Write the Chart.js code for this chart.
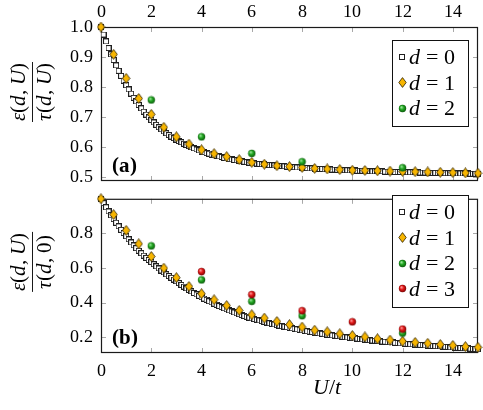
<!DOCTYPE html>
<html><head><meta charset="utf-8">
<script src="https://cdn.jsdelivr.net/npm/chart.js@4/dist/chart.umd.min.js"></script>
<style>
@font-face{font-family:"LSr";src:local("Liberation Serif"),local("LiberationSerif"),local("Liberation Serif Regular"),local("LiberationSerif-Regular");font-style:normal;font-weight:400}
@font-face{font-family:"LSr";src:local("Liberation Serif Italic"),local("LiberationSerif-Italic");font-style:italic;font-weight:400}
@font-face{font-family:"LSr";src:local("Liberation Serif Bold"),local("LiberationSerif-Bold");font-style:normal;font-weight:700}
html,body{margin:0;padding:0;background:#fff;width:483px;height:410px;overflow:hidden}
#c1{position:absolute;left:0;top:0}
#c2{position:absolute;left:0;top:180px}
</style></head><body>
<canvas id="c1" width="483" height="201"></canvas>
<canvas id="c2" width="483" height="230"></canvas>
<script>
// ---------- data ----------
const uFine = Array.from({length:151}, (_, i) => i / 10);
const uHalf = Array.from({length:31}, (_, i) => i / 2);
const uD2 = [2, 4, 6, 8, 12];
const uD3 = [4, 6, 8, 10, 12];
const xTicks = [0, 2, 4, 6, 8, 10, 12, 14];
const yTicksA = [0.5, 0.6, 0.7, 0.8, 0.9, 1.0];
const yTicksB = [0.2, 0.4, 0.6, 0.8];

const topD0 = [1.000,0.975,0.952,0.930,0.909,0.890,0.872,0.854,0.837,0.821,
0.806,0.792,0.778,0.764,0.752,0.740,0.729,0.718,0.708,0.699,
0.690,0.682,0.674,0.666,0.659,0.652,0.646,0.640,0.635,0.630,
0.625,0.620,0.616,0.611,0.607,0.603,0.599,0.596,0.592,0.589,
0.585,0.583,0.580,0.578,0.575,0.573,0.571,0.569,0.567,0.564,
0.562,0.560,0.559,0.557,0.556,0.554,0.553,0.551,0.550,0.548,
0.547,0.546,0.545,0.544,0.543,0.542,0.541,0.540,0.540,0.539,
0.538,0.537,0.537,0.536,0.535,0.534,0.534,0.533,0.532,0.532,
0.531,0.530,0.530,0.529,0.529,0.528,0.528,0.527,0.527,0.526,
0.526,0.526,0.525,0.525,0.524,0.524,0.523,0.523,0.523,0.522,
0.522,0.522,0.521,0.521,0.521,0.520,0.520,0.520,0.519,0.519,
0.519,0.519,0.519,0.518,0.518,0.518,0.518,0.517,0.517,0.517,
0.517,0.517,0.516,0.516,0.516,0.516,0.516,0.515,0.515,0.515,
0.515,0.515,0.514,0.514,0.514,0.514,0.514,0.513,0.513,0.513,
0.513,0.513,0.512,0.512,0.512,0.512,0.512,0.511,0.511,0.511,
0.511];
const topD1 = [1.0,0.909,0.829,0.762,0.709,0.666,0.634,0.610,0.591,0.578,0.568,0.558,0.549,0.543,0.538,0.535,
0.532,0.529,0.527,0.525,0.523,0.522,0.521,0.520,0.519,0.518,0.517,0.516,0.515,0.514,0.513];
const topD2 = [0.757, 0.634, 0.579, 0.551, 0.531];

const botD0 = [1.000,0.975,0.951,0.927,0.905,0.883,0.862,0.841,0.821,0.802,
0.784,0.766,0.748,0.731,0.715,0.700,0.686,0.672,0.659,0.647,
0.635,0.622,0.610,0.598,0.586,0.575,0.564,0.554,0.544,0.534,
0.524,0.513,0.503,0.493,0.483,0.474,0.465,0.456,0.448,0.440,
0.432,0.424,0.417,0.409,0.402,0.395,0.388,0.381,0.375,0.368,
0.362,0.356,0.350,0.344,0.339,0.334,0.329,0.324,0.319,0.314,
0.310,0.306,0.302,0.298,0.294,0.290,0.286,0.282,0.278,0.275,
0.271,0.268,0.265,0.262,0.259,0.256,0.253,0.250,0.247,0.244,
0.241,0.238,0.236,0.233,0.231,0.228,0.226,0.223,0.221,0.218,
0.216,0.214,0.212,0.210,0.208,0.206,0.204,0.202,0.200,0.198,
0.196,0.194,0.193,0.191,0.189,0.187,0.186,0.184,0.182,0.181,
0.179,0.178,0.176,0.175,0.173,0.172,0.171,0.169,0.168,0.166,
0.165,0.164,0.163,0.161,0.160,0.159,0.158,0.157,0.156,0.154,
0.153,0.152,0.151,0.150,0.149,0.148,0.147,0.146,0.145,0.143,
0.142,0.141,0.140,0.139,0.138,0.137,0.136,0.135,0.134,0.133,
0.132];
const botD1 = [1.0,0.909,0.818,0.740,0.667,0.600,0.545,0.494,0.452,0.417,0.384,0.356,0.331,0.312,0.292,0.274,
0.260,0.242,0.232,0.221,0.211,0.203,0.192,0.185,0.178,0.171,0.166,0.159,0.154,0.147,0.143];
const botD2 = [0.728, 0.532, 0.408, 0.325, 0.225];
const botD3 = [0.580, 0.447, 0.354, 0.290, 0.248];

// ---------- markers ----------
function mkSquare(){
  const c=document.createElement('canvas'); c.width=6; c.height=6;
  const g=c.getContext('2d'); g.fillStyle='#fff'; g.fillRect(0.5,0.5,5,5);
  g.strokeStyle='#202020'; g.lineWidth=1; g.strokeRect(0.5,0.5,5,5); return c;
}
function mkDiamond(){
  const c=document.createElement('canvas'); c.width=9; c.height=11;
  const g=c.getContext('2d'); g.beginPath();
  g.moveTo(4.5,0.6); g.lineTo(8.2,5.5); g.lineTo(4.5,10.4); g.lineTo(0.8,5.5); g.closePath();
  g.fillStyle='#f7b500'; g.fill(); g.strokeStyle='#2a2000'; g.lineWidth=0.8; g.stroke(); return c;
}
function mkBall(light, mid, dark){
  const c=document.createElement('canvas'); c.width=9; c.height=9;
  const g=c.getContext('2d');
  const gr=g.createRadialGradient(3.3,3.1,0.3,4.5,4.5,4.1);
  gr.addColorStop(0,light); gr.addColorStop(0.45,mid); gr.addColorStop(1,dark);
  g.beginPath(); g.arc(4.5,4.5,3.7,0,Math.PI*2); g.fillStyle=gr; g.fill(); return c;
}
const M0=mkSquare(), M1=mkDiamond(), M2=mkBall('#9be59b','#1fa51f','#0b4f0b'), M3=mkBall('#ff9a9a','#e01414','#6a0606');

const pts=(xs,ys)=>xs.map((x,i)=>({x:x,y:ys[i]}));
const ds=(xs,ys,m,order)=>({data:pts(xs,ys),pointStyle:m,pointRadius:4,showLine:false,clip:false,order:order});

// ---------- text helpers ----------
const SERIF='LSr, "Liberation Serif", serif';
function drawMath(ctx, parts, x, y, size, align){
  let w=0;
  parts.forEach(p=>{ctx.font=(p.i?'italic ':'')+size+'px '+SERIF; p.w=ctx.measureText(p.t).width; w+=p.w;});
  let cx = align==='center' ? x-w/2 : x;
  parts.forEach(p=>{ctx.font=(p.i?'italic ':'')+size+'px '+SERIF; ctx.fillText(p.t,cx,y); cx+=p.w;});
  return w;
}

const framePlugin = {
  id:'frame',
  beforeDatasetsDraw(chart, args, o){
    const {ctx, chartArea:a} = chart;
    const xs=chart.scales.x, ys=chart.scales.y;
    ctx.save();
    ctx.strokeStyle='#a8a8a8'; ctx.lineWidth=1;
    const L=5;
    xTicks.forEach(v=>{const px=Math.round(xs.getPixelForValue(v))+0.5;
      ctx.beginPath(); ctx.moveTo(px,a.top); ctx.lineTo(px,a.top+L); ctx.moveTo(px,a.bottom); ctx.lineTo(px,a.bottom-L); ctx.stroke();});
    o.yt.forEach(v=>{const py=Math.round(ys.getPixelForValue(v))+0.5;
      ctx.beginPath(); ctx.moveTo(a.left,py); ctx.lineTo(a.left+L,py); ctx.moveTo(a.right,py); ctx.lineTo(a.right-L,py); ctx.stroke();});
    ctx.strokeStyle='#1a1a1a'; ctx.lineWidth=1.2;
    ctx.strokeRect(a.left+0.5, a.top+0.5, a.right-a.left-1, a.bottom-a.top-1);
    ctx.restore();
  },
  afterDraw(chart, args, o){
    const {ctx, chartArea:a} = chart;
    ctx.save(); ctx.fillStyle='#000'; ctx.textBaseline='alphabetic';
    const cy=(a.top+a.bottom)/2 + o.labDy;
    ctx.translate(32, cy); ctx.rotate(-Math.PI/2);
    const wn=drawMath(ctx,[{t:'ε',i:true},{t:'('},{t:'d',i:true},{t:', '},{t:'U',i:true},{t:')'}],0,-7,21,'center');
    const wd=drawMath(ctx,o.den,0,19,21,'center');
    const w=Math.max(wn,wd)+2;
    ctx.strokeStyle='#000'; ctx.lineWidth=0.9;
    ctx.beginPath(); ctx.moveTo(-w/2,0.5); ctx.lineTo(w/2,0.5); ctx.stroke();
    ctx.setTransform(1,0,0,1,0,0);
    ctx.font='bold 21px '+SERIF; ctx.textAlign='left';
    ctx.fillText(o.tag, 112, o.tagY);
    const lg=o.legend;
    ctx.fillStyle='#fff'; ctx.fillRect(lg.x, lg.y, lg.w, lg.h);
    ctx.strokeStyle='#111'; ctx.lineWidth=1; ctx.strokeRect(lg.x+0.5, lg.y+0.5, lg.w, lg.h);
    ctx.fillStyle='#000';
    lg.items.forEach((it,i)=>{
      const yy=lg.y+17+i*25.6;
      ctx.drawImage(it.m, Math.round(402-it.m.width/2), Math.round(yy-it.m.height/2));
      drawMath(ctx,[{t:'d',i:true},{t:' = '+it.n}],409,yy+7,22,'left');
    });
    if(o.xlab){ drawMath(ctx,[{t:'U',i:true},{t:'/'},{t:'t',i:true}],327,o.xlabY,22,'center'); }
    ctx.restore();
  }
};

const tickFont={family:SERIF, size:18};
function scalesFor(pos, yMin, yMax, yT, xH){
  return {
    x:{type:'linear', position:pos, min:0, max:15,
       afterBuildTicks:s=>{s.ticks=xTicks.map(v=>({value:v}));},
       afterFit:s=>{s.height=xH;},
       ticks:{font:tickFont, color:'#000', padding:pos==='top'?4:7, maxRotation:0, autoSkip:false, callback:v=>String(v)},
       grid:{display:false, drawTicks:false}, border:{display:false}},
    y:{type:'linear', min:yMin, max:yMax,
       afterBuildTicks:s=>{s.ticks=yT.map(v=>({value:v}));},
       afterFit:s=>{s.width=101;},
       ticks:{font:tickFont, color:'#000', padding:8, callback:v=>v.toFixed(1)},
       grid:{display:false, drawTicks:false}, border:{display:false}}
  };
}
const common={responsive:false, animation:false, devicePixelRatio:1, events:[]};

function build(){
  const scA=scalesFor('top',0.487,1.0,yTicksA,27);
  scA.xb={type:'linear', position:'bottom', min:0, max:15, display:true,
    afterFit:s=>{s.height=20;}, ticks:{display:false}, grid:{display:false, drawTicks:false}, border:{display:false}};

  new Chart(document.getElementById('c1'),{
    type:'scatter',
    data:{datasets:[ds(uFine,topD0,M0,3), ds(uHalf,topD1,M1,2), ds(uD2,topD2,M2,1)]},
    options:Object.assign({},common,{
      layout:{padding:{left:0,right:2,top:0,bottom:0}},
      scales:scA,
      plugins:{legend:{display:false}, tooltip:{enabled:false},
        frame:{yt:yTicksA, labDy:-12, den:[{t:'τ',i:true},{t:'('},{t:'d',i:true},{t:', '},{t:'U',i:true},{t:')'}],
          tag:'(a)', tagY:172,
          legend:{x:392,y:40,w:76,h:86,items:[{m:M0,n:'0'},{m:M1,n:'1'},{m:M2,n:'2'}]}}}
    }),
    plugins:[framePlugin]
  });

  new Chart(document.getElementById('c2'),{
    type:'scatter',
    data:{datasets:[ds(uFine,botD0,M0,4), ds(uHalf,botD1,M1,3), ds(uD2,botD2,M2,2), ds(uD3,botD3,M3,1)]},
    options:Object.assign({},common,{
      layout:{padding:{left:0,right:2,top:2,bottom:0}},
      scales:scalesFor('bottom',0.11,1.0,yTicksB,57),
      plugins:{legend:{display:false}, tooltip:{enabled:false},
        frame:{yt:yTicksB, labDy:-14, den:[{t:'τ',i:true},{t:'('},{t:'d',i:true},{t:', 0)'}],
          tag:'(b)', tagY:164,
          legend:{x:392,y:15,w:76,h:112,items:[{m:M0,n:'0'},{m:M1,n:'1'},{m:M2,n:'2'},{m:M3,n:'3'}]},
          xlab:true, xlabY:214}}
    }),
    plugins:[framePlugin]
  });
}
const fl = ['18px LSr','italic 18px LSr','bold 18px LSr'].map(f=>document.fonts.load(f,'0.8dUεt'));
Promise.all(fl).then(build, build);
</script>
</body></html>
